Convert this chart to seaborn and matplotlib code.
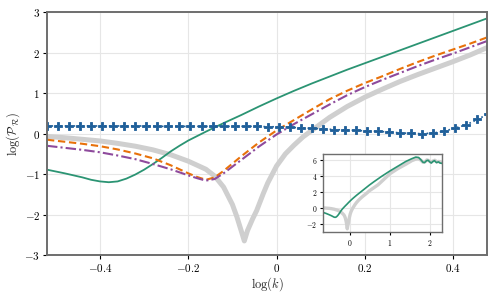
import numpy as np
import pandas as pd
import matplotlib
matplotlib.use("Agg")
import matplotlib.pyplot as plt
import seaborn as sns

# --- data (log k, log P_R) ---
gray_x = [-0.70, -0.60, -0.52, -0.48, -0.44, -0.40, -0.36, -0.32, -0.28, -0.24, -0.20, -0.18,
          -0.16, -0.14, -0.12, -0.10, -0.09, -0.08, -0.073, -0.066, -0.06, -0.054, -0.045,
          -0.03, -0.02, 0.0, 0.02, 0.04, 0.06, 0.08, 0.12, 0.16, 0.20, 0.24, 0.28, 0.32,
          0.36, 0.40, 0.44, 0.48]
gray_y = [0.00, -0.04, -0.07, -0.10, -0.14, -0.18, -0.24, -0.31, -0.40, -0.52, -0.68, -0.78,
          -0.88, -1.05, -1.32, -1.75, -2.05, -2.40, -2.65, -2.40, -2.25, -2.10, -1.90,
          -1.48, -1.22, -0.80, -0.50, -0.28, -0.08, 0.08, 0.40, 0.67, 0.90, 1.10, 1.29, 1.46,
          1.62, 1.78, 1.95, 2.14]

# continuation shown only in the inset
gray_ext_x = [0.48, 0.60, 0.70, 0.85, 1.00, 1.20, 1.40, 1.55, 1.65, 1.72, 1.78, 1.83, 1.88,
              1.93, 1.98, 2.03, 2.08, 2.13, 2.18, 2.23, 2.28, 2.32]
gray_ext_y = [2.14, 2.55, 2.90, 3.60, 4.30, 4.95, 5.50, 5.95, 6.15, 6.20, 6.00, 5.75, 5.80,
              6.05, 5.95, 5.75, 5.90, 6.00, 5.80, 5.85, 5.75, 5.70]

green_x = [-0.70, -0.60, -0.52, -0.48, -0.44, -0.42, -0.40, -0.38, -0.36, -0.34, -0.32, -0.30,
           -0.28, -0.26, -0.24, -0.22, -0.20, -0.16, -0.12, -0.08, -0.04, 0.0, 0.04, 0.08,
           0.12, 0.16, 0.20, 0.24, 0.28, 0.32, 0.36, 0.40, 0.44, 0.48]
green_y = [-0.55, -0.72, -0.89, -0.98, -1.08, -1.14, -1.18, -1.20, -1.18, -1.11, -1.01, -0.89,
           -0.75, -0.60, -0.44, -0.30, -0.17, 0.05, 0.26, 0.46, 0.67, 0.87, 1.06, 1.24,
           1.41, 1.58, 1.74, 1.90, 2.06, 2.22, 2.38, 2.54, 2.70, 2.86]

green_ext_x = [0.48, 0.60, 0.80, 1.00, 1.20, 1.40, 1.55, 1.65, 1.72, 1.78, 1.83, 1.87, 1.92,
               1.96, 2.00, 2.04, 2.08, 2.12, 2.17, 2.22, 2.26, 2.32]
green_ext_y = [2.86, 3.30, 4.00, 4.65, 5.25, 5.85, 6.20, 6.40, 6.35, 6.05, 5.75, 5.70, 5.95,
               6.00, 5.80, 5.65, 5.85, 5.95, 5.70, 5.80, 5.65, 5.60]

orange_x = [-0.52, -0.48, -0.44, -0.40, -0.36, -0.32, -0.28, -0.24, -0.20, -0.18, -0.16, -0.14,
            -0.12, -0.08, -0.04, 0.0, 0.04, 0.08, 0.12, 0.16, 0.20, 0.24, 0.28, 0.32, 0.36,
            0.40, 0.44, 0.48]
orange_y = [-0.15, -0.20, -0.25, -0.31, -0.39, -0.49, -0.61, -0.78, -0.98, -1.07, -1.14, -1.08,
            -0.92, -0.56, -0.22, 0.08, 0.34, 0.60, 0.85, 1.06, 1.25, 1.42, 1.60, 1.77, 1.93,
            2.08, 2.23, 2.39]

purple_x = orange_x
purple_y = [-0.30, -0.35, -0.40, -0.46, -0.54, -0.63, -0.75, -0.88, -1.03, -1.10, -1.16, -1.12,
            -0.98, -0.65, -0.32, -0.02, 0.24, 0.48, 0.72, 0.95, 1.15, 1.33, 1.50, 1.67, 1.83,
            1.98, 2.14, 2.30]

blue_x = [-0.52 + 0.025 * i for i in range(41)]
blue_y = [0.19, 0.19, 0.19, 0.19, 0.19, 0.19, 0.19, 0.19, 0.19, 0.19, 0.18, 0.18, 0.18, 0.18,
          0.18, 0.18, 0.18, 0.18, 0.18, 0.18, 0.17, 0.17, 0.16, 0.14, 0.13, 0.12, 0.10, 0.09,
          0.08, 0.065, 0.055, 0.04, 0.02, 0.005, 0.0, 0.015, 0.06, 0.14, 0.22, 0.35, 0.49]

GRAY = "#cfcfcf"
GREEN = "#2b9473"
ORANGE = "#e8710a"
PURPLE = "#8e4a9c"
BLUE = "#1f5f99"
SPINE = "#6e6e6e"

sns.set_theme(style="whitegrid")
plt.rcParams["font.family"] = ["DejaVu Serif"]
plt.rcParams["mathtext.fontset"] = "cm"
plt.rcParams["axes.unicode_minus"] = True


def mathfmt(v, pos):
    if abs(v - round(v)) < 1e-9:
        s = f"{int(round(v))}"
    else:
        s = f"{v:.1f}"
    return "$" + s + "$"


def style_axes(ax, lw, labsize, ticklen):
    for sp in ax.spines.values():
        sp.set_color(SPINE)
        sp.set_linewidth(lw)
    ax.grid(True, color="#e6e6e6", linewidth=0.8)
    ax.tick_params(axis="both", which="both", direction="out", length=ticklen, width=0.8,
                   colors="black", labelsize=labsize, pad=2, bottom=True, left=True)
    ax.xaxis.set_major_formatter(matplotlib.ticker.FuncFormatter(mathfmt))
    ax.yaxis.set_major_formatter(matplotlib.ticker.FuncFormatter(mathfmt))


fig = plt.figure(figsize=(4.95, 2.98), dpi=100)
ax = fig.add_axes([0.095, 0.144, 0.889, 0.815])

sns.lineplot(x=gray_x, y=gray_y, ax=ax, color=GRAY, linewidth=3.6, sort=False)
sns.lineplot(x=green_x, y=green_y, ax=ax, color=GREEN, linewidth=1.3, sort=False)
sns.lineplot(x=orange_x, y=orange_y, ax=ax, color=ORANGE, linewidth=1.5, sort=False,
             linestyle=(0, (3.5, 1.8)))
sns.lineplot(x=purple_x, y=purple_y, ax=ax, color=PURPLE, linewidth=1.5, sort=False,
             linestyle=(0, (5, 1.5, 1, 1.5)))
sns.lineplot(x=blue_x, y=blue_y, ax=ax, color=BLUE, linewidth=1.2, sort=False,
             marker="P", markersize=6.2, markeredgewidth=0.6, markeredgecolor=BLUE,
             linestyle=":")

ax.set_xlim(-0.52, 0.477)
ax.set_ylim(-3, 3)
ax.set_xticks([-0.4, -0.2, 0.0, 0.2, 0.4])
ax.set_yticks([-3, -2, -1, 0, 1, 2, 3])
style_axes(ax, 1.4, 8, 3)
ax.set_xlabel(r"$\log(k)$", fontsize=9, labelpad=1)
ax.set_ylabel(r"$\log(\mathcal{P}_\mathcal{R})$", fontsize=9, labelpad=2)

# inset
axi = fig.add_axes([0.652, 0.2215, 0.241, 0.262])
sns.lineplot(x=gray_x + gray_ext_x[1:], y=gray_y + gray_ext_y[1:], ax=axi, color=GRAY,
             linewidth=2.4, sort=False)
sns.lineplot(x=green_x + green_ext_x[1:], y=green_y + green_ext_y[1:], ax=axi, color=GREEN,
             linewidth=1.2, sort=False)
axi.set_xlim(-0.69, 2.31)
axi.set_ylim(-3.05, 6.8)
axi.set_xticks([0, 1, 2])
axi.set_yticks([-2, 0, 2, 4, 6])
style_axes(axi, 1.0, 5.5, 2)
axi.set_xlabel("")
axi.set_ylabel("")

fig.savefig("out.png", dpi=100)
